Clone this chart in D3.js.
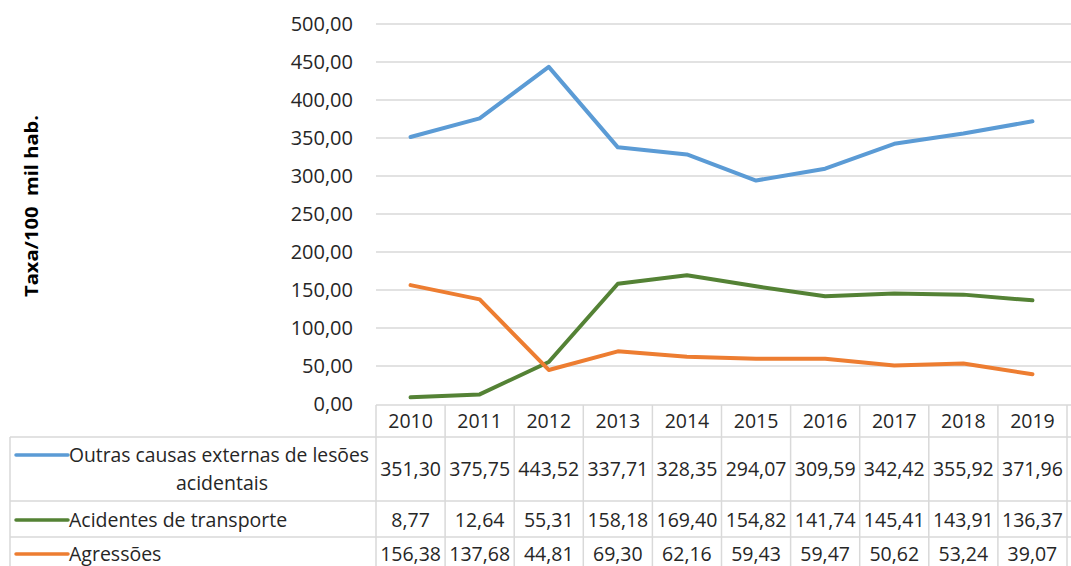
<!DOCTYPE html>
<html>
<head>
<meta charset="utf-8">
<script src="https://d3js.org/d3.v7.min.js"></script>
<style>
  body { margin: 0; padding: 0; background: #fff; }
  svg text { font-family: "Open Sans", "Liberation Sans", sans-serif; fill: #262626; }
</style>
</head>
<body>
<div id="chart"></div>
<script>
// data
var years = ["2010", "2011", "2012", "2013", "2014", "2015", "2016", "2017", "2018", "2019"];
var outras = [351.30, 375.75, 443.52, 337.71, 328.35, 294.07, 309.59, 342.42, 355.92, 371.96];
var transporte = [8.77, 12.64, 55.31, 158.18, 169.40, 154.82, 141.74, 145.41, 143.91, 136.37];
var agressoes = [156.38, 137.68, 44.81, 69.30, 62.16, 59.43, 59.47, 50.62, 53.24, 39.07];
var seriesNames = ["Outras causas externas de lesões acidentais", "Acidentes de transporte", "Agressões"];
var yTicks = [0, 50, 100, 150, 200, 250, 300, 350, 400, 450, 500];

var series = [
  { name: seriesNames[0], values: outras, color: "#5b9bd5", lines: ["Outras causas externas de lesões", "acidentais"] },
  { name: seriesNames[1], values: transporte, color: "#548235", lines: ["Acidentes de transporte"] },
  { name: seriesNames[2], values: agressoes, color: "#ed7d31", lines: ["Agressões"] }
];

var W = 1071, H = 566;
var plotLeft = 376, plotRight = 1067, plotTop = 24, plotBottom = 404;
var tableLeft = 10;
var gridColor = "#d9d9d9";
var fs = "19.5px";

var svg = d3.select("#chart").append("svg")
  .attr("width", W).attr("height", H);

var x = d3.scaleBand().domain(years).range([plotLeft, plotRight]);
var y = d3.scaleLinear().domain([0, 500]).range([plotBottom, plotTop]);

var fmt = function (v) { return d3.format(".2f")(v).replace(".", ","); };

// gridlines
svg.append("g").selectAll("line").data(yTicks.filter(function (d) { return d > 0; }))
  .enter().append("line")
  .attr("x1", plotLeft).attr("x2", plotRight + 4)
  .attr("y1", function (d) { return y(d); }).attr("y2", function (d) { return y(d); })
  .attr("stroke", gridColor).attr("stroke-width", 1.5);

// y axis labels
svg.append("g").selectAll("text").data(yTicks).enter().append("text")
  .attr("x", 353).attr("y", function (d) { return y(d); })
  .attr("dy", "0.35em").attr("text-anchor", "end")
  .style("font-size", "20px")
  .text(fmt);

// y title (double space kept as in the original)
svg.append("text")
  .attr("transform", "translate(38,206) rotate(-90)")
  .attr("text-anchor", "middle")
  .attr("textLength", 182).attr("lengthAdjust", "spacingAndGlyphs")
  .style("white-space", "pre")
  .style("font-size", "17px").style("font-weight", "bold")
  .style("fill", "#000")
  .text("Taxa/100  mil hab.");

// data table
var rowTops = [405, 437, 501, 537, 575];
var table = svg.append("g");
table.append("line").attr("x1", plotLeft).attr("x2", plotRight + 4)
  .attr("y1", rowTops[0]).attr("y2", rowTops[0]).attr("stroke", gridColor).attr("stroke-width", 1.5);
[1, 2, 3].forEach(function (i) {
  table.append("line").attr("x1", tableLeft).attr("x2", plotRight + 4)
    .attr("y1", rowTops[i]).attr("y2", rowTops[i]).attr("stroke", gridColor).attr("stroke-width", 1.5);
});
var vx = years.map(function (d) { return x(d); }).concat([plotRight]);
vx.forEach(function (v) {
  table.append("line").attr("x1", v).attr("x2", v)
    .attr("y1", rowTops[0]).attr("y2", H).attr("stroke", gridColor).attr("stroke-width", 1.5);
});
table.append("line").attr("x1", tableLeft).attr("x2", tableLeft)
  .attr("y1", rowTops[1]).attr("y2", H).attr("stroke", gridColor).attr("stroke-width", 1.5);

// year header
table.selectAll("text.year").data(years).enter().append("text")
  .attr("class", "year")
  .attr("x", function (d) { return x(d) + x.bandwidth() / 2; })
  .attr("y", (rowTops[0] + rowTops[1]) / 2)
  .attr("dy", "0.35em").attr("text-anchor", "middle")
  .style("font-size", fs)
  .text(function (d) { return d; });

var rowCenters = [469, 520, 554];
series.forEach(function (s, i) {
  var cy = rowCenters[i];
  table.selectAll("text.v" + i).data(s.values).enter().append("text")
    .attr("x", function (d, j) { return x(years[j]) + x.bandwidth() / 2; })
    .attr("y", cy)
    .attr("dy", "0.35em").attr("text-anchor", "middle")
    .style("font-size", fs)
    .text(fmt);
  // legend key + label
  var ly = s.lines.length > 1 ? cy - 14 : cy;
  table.append("line").attr("x1", 16).attr("x2", 68)
    .attr("y1", ly).attr("y2", ly)
    .attr("stroke", s.color).attr("stroke-width", 3.5).attr("stroke-linecap", "round");
  var t = table.append("text").attr("x", 69).attr("y", ly).attr("dy", "0.35em")
    .style("font-size", fs).text(s.lines[0]);
  if (s.lines.length > 1) {
    t.attr("textLength", 300).attr("lengthAdjust", "spacingAndGlyphs");
    table.append("text").attr("x", 222).attr("y", ly + 28).attr("dy", "0.35em")
      .attr("text-anchor", "middle")
      .style("font-size", fs).text(s.lines[1]);
  }
});

// lines
var line = d3.line()
  .x(function (d, j) { return x(years[j]) + x.bandwidth() / 2; })
  .y(function (d) { return y(d); });

svg.append("g").selectAll("path").data(series).enter().append("path")
  .attr("d", function (s) { return line(s.values); })
  .attr("fill", "none")
  .attr("stroke", function (s) { return s.color; })
  .attr("stroke-width", 4)
  .attr("stroke-linejoin", "round")
  .attr("stroke-linecap", "round");
</script>
</body>
</html>
